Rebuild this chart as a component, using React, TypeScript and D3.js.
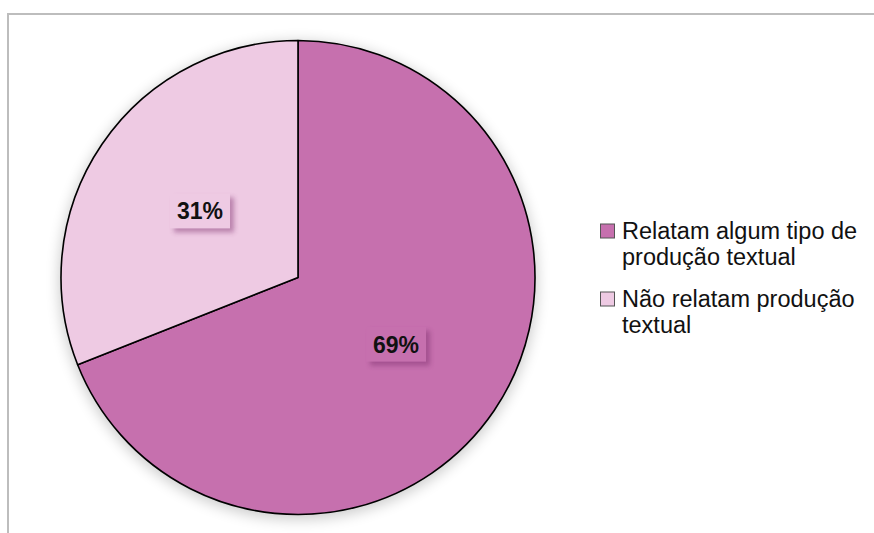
import React from "react";
import * as d3 from "d3";

const categories = ["Relatam algum tipo de produção textual", "Não relatam produção textual"];
const values = [69, 31];
const labels = ["69%", "31%"];
const legendLines = [["Relatam algum tipo de", "produção textual"], ["Não relatam produção", "textual"]];
const colors = ["#C670AE", "#EECAE3"];

export default function App() {
  const W = 874, H = 533;
  const cx = 298, cy = 277.5, r = 237;
  const pie = d3.pie<number>().sort(null).value((d) => d)(values);
  const arc = d3.arc<d3.PieArcDatum<number>>().innerRadius(0).outerRadius(r);
  const font = "'Liberation Sans', Arial, sans-serif";
  return (
    <svg width={W} height={H} style={{ position: "absolute", left: 0, top: 0, background: "#fff" }}>
      <defs>
        <filter id="pieShadow" x="-20%" y="-20%" width="140%" height="140%">
          <feGaussianBlur stdDeviation="7" />
        </filter>
        <filter id="lblShadow" x="-30%" y="-30%" width="160%" height="160%">
          <feGaussianBlur stdDeviation="2.5" />
        </filter>
      </defs>
      <rect x={8} y={14} width={W + 20} height={H + 20} fill="#fff" stroke="#bdbdbd" strokeWidth={2} />
      <circle cx={cx} cy={cy + 3} r={r + 2} fill="#000" opacity={0.2} filter="url(#pieShadow)" />
      <g transform={`translate(${cx},${cy})`}>
        {pie.map((p, i) => (
          <path key={categories[i]} d={arc(p) || ""} fill={colors[i]} stroke="#000" strokeWidth={1.6} strokeLinejoin="round" />
        ))}
        {pie.map((p, i) => {
          const [x, y] = arc.centroid(p);
          const bw = 60, bh = 35;
          return (
            <g key={"l" + i} transform={`translate(${x},${y})`}>
              <rect x={-bw / 2 + 4} y={-bh / 2 + 4} width={bw} height={bh} fill="#7a2a6a" opacity={0.45} filter="url(#lblShadow)" />
              <rect x={-bw / 2} y={-bh / 2} width={bw} height={bh} fill={colors[i]} />
              <text x={0} y={8.5} textAnchor="middle" fontFamily={font} fontWeight="bold" fontSize={23} fill="#111">
                {labels[i]}
              </text>
            </g>
          );
        })}
      </g>
      {legendLines.map((lines, i) => {
        const y0 = 239 + i * 68;
        return (
          <g key={"lg" + i}>
            <rect x={600.5} y={y0 - 15} width={14} height={14} fill={colors[i]} stroke="#555" strokeWidth={1} />
            {lines.map((t, j) => (
              <text key={j} x={622} y={y0 + j * 26} fontFamily={font} fontSize={23.5} fill="#111">
                {t}
              </text>
            ))}
          </g>
        );
      })}
    </svg>
  );
}
